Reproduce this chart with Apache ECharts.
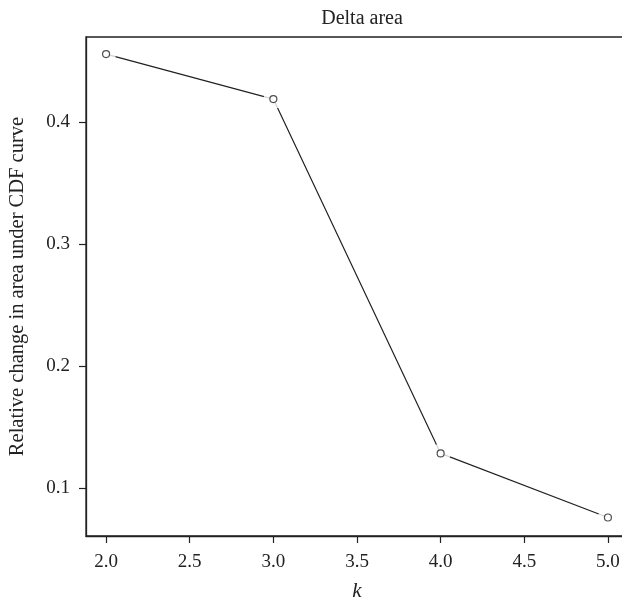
<!DOCTYPE html>
<html>
<head>
<meta charset="utf-8">
<script src="https://cdn.jsdelivr.net/npm/echarts@6/dist/echarts.min.js"></script>
<style>
html,body{margin:0;padding:0;background:#fff;}
#chart{width:622px;height:603px;}
</style>
</head>
<body>
<div id="chart"></div>
<script>
var kValues = [2, 3, 4, 5];
var deltaArea = [0.4562, 0.4192, 0.1283, 0.0757];
var xTicks = [2.0, 2.5, 3.0, 3.5, 4.0, 4.5, 5.0];
var yTicks = [0.1, 0.2, 0.3, 0.4];
var titleText = 'Delta area';
var xName = 'k';
var yName = 'Relative change in area under CDF curve';

var pts = kValues.map(function (k, i) { return [k, deltaArea[i]]; });
var FONT = '"Liberation Serif", "DejaVu Serif", serif';

var chart = echarts.init(document.getElementById('chart'), null, {renderer: 'canvas'});
chart.setOption({
  animation: false,
  backgroundColor: '#fff',
  title: {
    text: titleText, left: 357, top: 4, textAlign: 'center',
    textStyle: {fontFamily: FONT, fontSize: 20, fontWeight: 'normal', color: '#222'}
  },
  grid: {left: 86, right: -6, top: 37, bottom: 67, containLabel: false,
         outerBoundsMode: 'none',
         show: true, borderColor: '#222', borderWidth: 1.3},
  xAxis: {
    type: 'value', min: 1.88, max: 5.12,
    name: xName, nameLocation: 'middle', nameGap: 45,
    nameTextStyle: {fontFamily: FONT, fontSize: 21, fontStyle: 'italic', color: '#222'},
    axisLine: {show: true, onZero: false, lineStyle: {color: '#222', width: 1.3}},
    axisTick: {show: true, length: 7, lineStyle: {color: '#222', width: 1.2},
               customValues: xTicks},
    axisLabel: {fontFamily: FONT, fontSize: 19, color: '#222', margin: 17,
                customValues: xTicks,
                formatter: function (v) { return v.toFixed(1); }},
    splitLine: {show: false}
  },
  yAxis: {
    type: 'value', min: 0.0605, max: 0.4702,
    name: yName, nameLocation: 'middle', nameGap: 58,
    nameTextStyle: {fontFamily: FONT, fontSize: 20.5, color: '#222'},
    axisLine: {show: true, onZero: false, lineStyle: {color: '#222', width: 1.3}},
    axisTick: {show: true, length: 7, lineStyle: {color: '#222', width: 1.2},
               customValues: yTicks},
    axisLabel: {fontFamily: FONT, fontSize: 19, color: '#222', margin: 16,
                customValues: yTicks,
                formatter: function (v) { return v.toFixed(1); }},
    splitLine: {show: false}
  },
  series: [
    {type: 'line', data: pts, symbol: 'none',
     lineStyle: {color: '#222', width: 1.2}, z: 2},
    {type: 'scatter', data: pts, symbol: 'circle', symbolSize: 20,
     itemStyle: {color: '#fff', borderWidth: 0}, z: 3, silent: true},
    {type: 'scatter', data: pts, symbol: 'circle', symbolSize: 7,
     itemStyle: {color: '#fff', borderColor: '#222', borderWidth: 1.2}, z: 4}
  ]
});
</script>
</body>
</html>
